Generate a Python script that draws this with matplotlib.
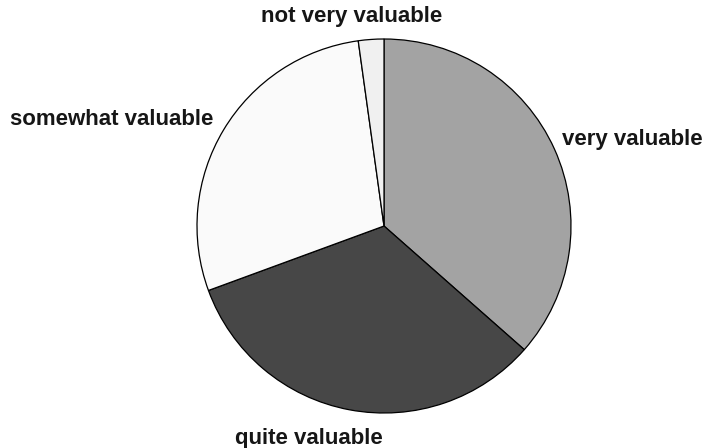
import matplotlib
matplotlib.use("Agg")
import matplotlib.pyplot as plt

categories = ["very valuable", "quite valuable", "somewhat valuable", "not very valuable"]
values = [36.5, 32.9, 28.4, 2.2]
colors = ["#a3a3a3", "#474747", "#fafafa", "#f0f0f0"]

W, H = 704, 448
fig = plt.figure(figsize=(W / 100, H / 100), dpi=100)
cx, cy, r = 384, 226, 187
ax = fig.add_axes([(cx - r) / W, (H - cy - r) / H, 2 * r / W, 2 * r / H])
ax.pie(values, colors=colors, startangle=90, counterclock=False,
       wedgeprops=dict(edgecolor="black", linewidth=0.9), radius=1)
ax.set_xlim(-1, 1)
ax.set_ylim(-1, 1)
ax.set_aspect("equal")
ax.axis("off")

label_pos = [(0.952, 0.462, "left"), (-0.401, -1.138, "center"),
             (-0.914, 0.572, "right"), (-0.171, 1.12, "center")]
for name, (x, y, ha) in zip(categories, label_pos):
    ax.text(x, y, name, ha=ha, va="center", fontsize=16, fontweight="bold",
            family="Liberation Sans", color="#161616", clip_on=False)

fig.savefig("out.png", dpi=100)
